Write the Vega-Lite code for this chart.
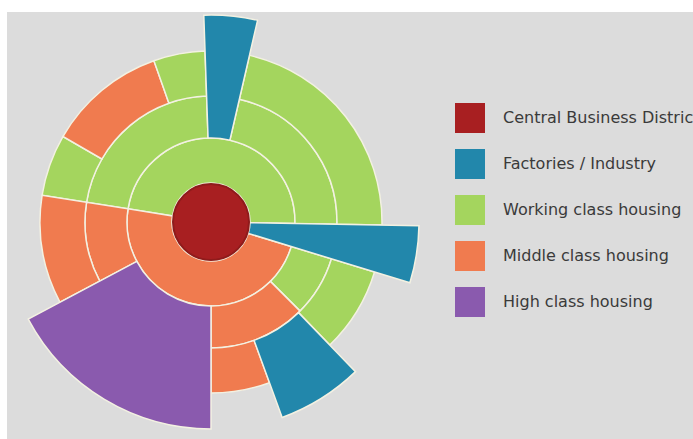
{
  "$schema": "https://vega.github.io/schema/vega-lite/v6.json",
  "width": 686,
  "height": 427,
  "autosize": {"type": "none"},
  "padding": {"left": 7, "top": 12, "right": 0, "bottom": 0},
  "background": "white",
  "config": {"view": {"fill": "#dcdcdc", "stroke": null}},
  "data": {
    "values": [
      {"zone": "Working class housing", "a0": -81, "a1": 91, "r0": 39, "r1": 84},
      {"zone": "Middle class housing", "a0": 107, "a1": 279, "r0": 39, "r1": 84},
      {"zone": "Working class housing", "a0": -81, "a1": -2, "r0": 84, "r1": 126},
      {"zone": "Working class housing", "a0": 13, "a1": 91, "r0": 84, "r1": 126},
      {"zone": "Working class housing", "a0": 107, "a1": 135, "r0": 84, "r1": 126},
      {"zone": "Middle class housing", "a0": 135, "a1": 180, "r0": 84, "r1": 126},
      {"zone": "Middle class housing", "a0": 242, "a1": 279, "r0": 84, "r1": 126},
      {"zone": "Working class housing", "a0": -81, "a1": -60, "r0": 126, "r1": 171},
      {"zone": "Middle class housing", "a0": -60, "a1": -19.5, "r0": 126, "r1": 171},
      {"zone": "Working class housing", "a0": -19.5, "a1": -2, "r0": 126, "r1": 171},
      {"zone": "Working class housing", "a0": 13, "a1": 91, "r0": 126, "r1": 171},
      {"zone": "Working class housing", "a0": 107, "a1": 136, "r0": 126, "r1": 171},
      {"zone": "Middle class housing", "a0": 160, "a1": 180, "r0": 126, "r1": 171},
      {"zone": "Middle class housing", "a0": 242, "a1": 279, "r0": 126, "r1": 171},
      {"zone": "Factories / Industry", "a0": -2, "a1": 13, "r0": 84, "r1": 207},
      {"zone": "Factories / Industry", "a0": 91, "a1": 107, "r0": 39, "r1": 208},
      {"zone": "Factories / Industry", "a0": 136, "a1": 160, "r0": 126, "r1": 208},
      {"zone": "High class housing", "a0": 180, "a1": 242, "r0": 84, "r1": 207},
      {"zone": "Central Business District", "a0": 0, "a1": 360, "r0": 0, "r1": 38}
    ]
  },
  "encoding": {
    "x": {"datum": 0, "type": "quantitative", "scale": {"domain": [-204, 482]}, "axis": null},
    "y": {"datum": 0, "type": "quantitative", "scale": {"domain": [-217, 210]}, "axis": null},
    "theta": {"field": "a0", "type": "quantitative", "stack": null, "scale": {"domain": [0, 360], "range": [0, 6.283185307179586]}},
    "theta2": {"field": "a1"},
    "radius": {"field": "r0", "type": "quantitative", "scale": {"type": "linear", "domain": [0, 208], "range": [0, 208], "zero": true}},
    "radius2": {"field": "r1"},
    "color": {
      "field": "zone",
      "type": "nominal",
      "scale": {
        "domain": ["Central Business District", "Factories / Industry", "Working class housing", "Middle class housing", "High class housing"],
        "range": ["#a81f21", "#2287ab", "#a4d55e", "#f07b4f", "#8a5aae"]
      },
      "legend": {
        "title": null,
        "orient": "none",
        "legendX": 448,
        "legendY": 91,
        "padding": 0,
        "symbolType": "square",
        "symbolSize": 900,
        "symbolStrokeWidth": 0,
        "symbolOpacity": 1,
        "rowPadding": 16,
        "labelOffset": 18,
        "labelFont": "DejaVu Sans",
        "labelFontSize": 16,
        "labelColor": "#3a3a3a",
        "labelLimit": 400
      }
    }
  },
  "layer": [
    {
      "transform": [{"filter": "datum.zone !== 'Central Business District'"}],
      "mark": {"type": "arc", "stroke": "#f3f1e2", "strokeWidth": 1.5}
    },
    {
      "transform": [{"filter": "datum.zone === 'Central Business District'"}],
      "mark": {"type": "arc", "stroke": "#8f1b1b", "strokeWidth": 2}
    }
  ]
}
